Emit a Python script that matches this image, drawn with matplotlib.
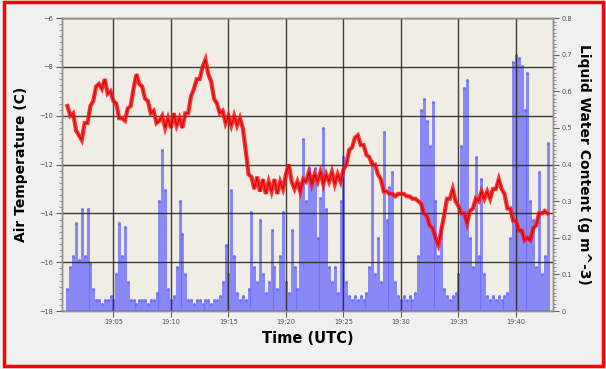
import matplotlib
matplotlib.use("Agg")
import matplotlib.pyplot as plt
import matplotlib.dates as mdates
from matplotlib.ticker import AutoMinorLocator
from matplotlib.patches import Rectangle
import pandas as pd

# ---- data (15 s samples starting 19:01:00 UTC) ----
sample_start = "2000-01-01 19:01:00"
sample_step = "15s"

air_temp_c = [
    -9.6, -10.0, -9.9, -10.6, -10.8, -11.0, -10.3, -10.3, -9.6, -9.4,
    -8.8, -8.7, -8.9, -8.5, -9.1, -9.0, -9.4, -9.5, -10.1, -10.1,
    -10.2, -9.7, -9.6, -8.9, -8.3, -8.7, -8.8, -9.3, -9.4, -9.9,
    -9.8, -10.3, -10.2, -10.0, -10.5, -10.1, -10.5, -9.9, -10.4, -10.1,
    -10.5, -9.9, -9.9, -9.2, -8.9, -8.5, -8.5, -8.0, -7.7, -8.3,
    -8.6, -9.3, -9.5, -9.9, -9.8, -10.3, -10.0, -10.4, -10.0, -10.4,
    -10.1, -10.5, -11.4, -12.4, -12.5, -13.0, -12.5, -13.1, -12.6, -13.2,
    -12.7, -13.1, -12.6, -13.2, -12.7, -13.0, -12.4, -12.0, -12.7, -13.0,
    -12.7, -13.1, -12.6, -12.7, -12.3, -12.8, -12.4, -12.7, -12.3, -12.8,
    -12.4, -12.7, -12.3, -12.8, -12.4, -12.7, -12.2, -12.0, -11.4, -11.3,
    -10.9, -10.8, -11.2, -11.2, -11.6, -11.7, -12.0, -12.0, -12.4, -12.6,
    -13.1, -13.1, -13.2, -13.2, -13.3, -13.2, -13.2, -13.2, -13.3, -13.3,
    -13.4, -13.4, -13.5, -13.6, -14.0, -14.1, -14.5, -14.6, -15.0, -15.3,
    -14.7, -14.1, -13.4, -13.4, -13.0, -13.5, -13.7, -14.0, -14.0, -14.4,
    -13.9, -13.8, -13.4, -13.5, -13.1, -13.4, -13.1, -13.4, -13.0, -13.0,
    -12.6, -13.0, -13.2, -13.8, -13.8, -14.3, -14.3, -14.7, -14.7, -15.1,
    -15.0, -15.1, -14.6, -14.5, -14.0, -14.0, -13.9, -14.0,
]

lwc_g_m3 = [
    0.06, 0.12, 0.15, 0.24, 0.14, 0.28, 0.15, 0.28, 0.13, 0.06,
    0.03, 0.03, 0.02, 0.03, 0.03, 0.04, 0.03, 0.10, 0.24, 0.15,
    0.23, 0.08, 0.03, 0.03, 0.02, 0.03, 0.03, 0.03, 0.02, 0.03,
    0.03, 0.05, 0.30, 0.44, 0.33, 0.06, 0.03, 0.04, 0.12, 0.30,
    0.21, 0.10, 0.03, 0.03, 0.02, 0.03, 0.03, 0.02, 0.03, 0.03,
    0.02, 0.03, 0.03, 0.04, 0.08, 0.18, 0.10, 0.33, 0.15, 0.05,
    0.03, 0.04, 0.03, 0.06, 0.27, 0.12, 0.08, 0.25, 0.10, 0.05,
    0.08, 0.22, 0.12, 0.06, 0.15, 0.27, 0.08, 0.05, 0.22, 0.12,
    0.06, 0.35, 0.47, 0.30, 0.39, 0.37, 0.39, 0.20, 0.31, 0.50,
    0.28, 0.12, 0.08, 0.12, 0.05, 0.30, 0.42, 0.08, 0.04, 0.03,
    0.04, 0.03, 0.04, 0.03, 0.05, 0.12, 0.41, 0.10, 0.20, 0.08,
    0.49, 0.25, 0.34, 0.38, 0.08, 0.04, 0.03, 0.04, 0.03, 0.04,
    0.03, 0.05, 0.15, 0.55, 0.58, 0.52, 0.45, 0.57, 0.30, 0.15,
    0.23, 0.06, 0.04, 0.03, 0.04, 0.05, 0.10, 0.45, 0.61, 0.63,
    0.20, 0.12, 0.42, 0.15, 0.36, 0.10, 0.04, 0.03, 0.04, 0.03,
    0.04, 0.03, 0.04, 0.05, 0.20, 0.68, 0.70, 0.69, 0.67, 0.55,
    0.65, 0.30, 0.25, 0.12, 0.38, 0.10, 0.15, 0.46,
]

temp_ticks = [-6, -8, -10, -12, -14, -16, -18]
lwc_ticks = [0, 0.1, 0.2, 0.3, 0.4, 0.5, 0.6, 0.7, 0.8]
lwc_tick_labels = ["0", "0.1", "0.2", "0.3", "0.4", "0.5", "0.6", "0.7", "0.8"]
x_start = "2000-01-01 19:00:31"
x_end = "2000-01-01 19:43:13"

times = pd.date_range(sample_start, periods=len(air_temp_c), freq=sample_step)
tnum = mdates.date2num(times.to_pydatetime())

# ---- figure ----
fig = plt.figure(figsize=(6.06, 3.69), dpi=100, facecolor="#f0f0f0")
ax = fig.add_axes([0.102, 0.157, 0.8105, 0.794])
ax2 = ax.twinx()

blue = "#6464ff"
red = "#ff1414"

ax.set_zorder(2)
ax.patch.set_visible(False)
ax2.set_zorder(1)
ax2.patch.set_visible(True)
ax2.patch.set_facecolor("#efede4")

ax2.set_ylim(0, 0.8)
ax2.set_yticks(lwc_ticks)
ax2.set_yticklabels(lwc_tick_labels)
ax2.yaxis.set_minor_locator(AutoMinorLocator(10))

# LWC (right axis)
ax2.vlines(tnum, 0, lwc_g_m3, color=blue, linewidth=2.1, alpha=0.75, zorder=2)
ax2.scatter(tnum, lwc_g_m3, s=5, color=blue, alpha=0.8, linewidths=0, zorder=2)

# grid + temperature (left axis)
ax.grid(True, which="major", color="#2a2a2a", linewidth=1.0, alpha=0.9)
ax.set_axisbelow(True)
ax.plot(tnum, air_temp_c, color=red, linewidth=3.0, alpha=0.85, solid_joinstyle="miter")
ax.plot(tnum, air_temp_c, color="#c80000", linewidth=0.8, alpha=0.9)
ax.set_ylim(-18, -6)
ax.set_yticks(temp_ticks)
ax.yaxis.set_minor_locator(AutoMinorLocator(8))

for a in (ax, ax2):
    a.set_xlim(mdates.date2num(pd.Timestamp(x_start)), mdates.date2num(pd.Timestamp(x_end)))
ax.xaxis.set_major_locator(mdates.MinuteLocator(byminute=range(0, 60, 5)))
ax.xaxis.set_major_formatter(mdates.DateFormatter("%H:%M"))

for a in (ax, ax2):
    for s in a.spines.values():
        s.set_color("#909090")
        s.set_linewidth(1.0)
    a.tick_params(which="major", length=4, width=0.8, color="#606060",
                  labelsize=4.8, labelcolor="#505050", pad=2)
    a.tick_params(which="minor", length=2, width=0.6, color="#808080")

ax.set_xlabel("Time (UTC)", fontsize=10.5, fontweight="bold", labelpad=4)
ax.set_ylabel("Air Temperature (C)", fontsize=10, fontweight="bold", labelpad=8)
ax2.set_ylabel("Liquid Water Content (g m^-3)", fontsize=10, fontweight="bold",
               rotation=-90, labelpad=14)

fig.patches.append(Rectangle((0.0066, 0.008), 0.9884, 0.987, transform=fig.transFigure,
                             fill=False, edgecolor="#ff0000", linewidth=2.5))

fig.savefig("out.png", dpi=100, facecolor=fig.get_facecolor())
